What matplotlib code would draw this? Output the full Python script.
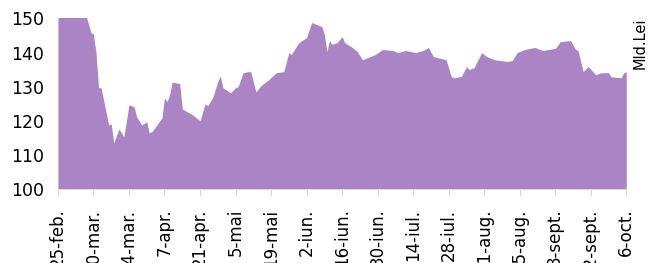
import pandas as pd
import matplotlib.pyplot as plt

# Values (mld. lei), 2020
dates = [
    "2020-02-25", "2020-03-01", "2020-03-07", "2020-03-09", "2020-03-10", "2020-03-11",
    "2020-03-12", "2020-03-13", "2020-03-16", "2020-03-17", "2020-03-18", "2020-03-20",
    "2020-03-22", "2020-03-24", "2020-03-26", "2020-03-27", "2020-03-29", "2020-03-31",
    "2020-04-01", "2020-04-02", "2020-04-04", "2020-04-06", "2020-04-07", "2020-04-08",
    "2020-04-09", "2020-04-10", "2020-04-13", "2020-04-14", "2020-04-18", "2020-04-21",
    "2020-04-23", "2020-04-24", "2020-04-26", "2020-04-28", "2020-04-29", "2020-04-30",
    "2020-05-03", "2020-05-05", "2020-05-06", "2020-05-08", "2020-05-10", "2020-05-11",
    "2020-05-13", "2020-05-15", "2020-05-18", "2020-05-21", "2020-05-24", "2020-05-26",
    "2020-05-27", "2020-05-29", "2020-05-30", "2020-06-02", "2020-06-04", "2020-06-06",
    "2020-06-08", "2020-06-09", "2020-06-10", "2020-06-11", "2020-06-12", "2020-06-14",
    "2020-06-16", "2020-06-17", "2020-06-20", "2020-06-22", "2020-06-24", "2020-06-27",
    "2020-06-29", "2020-07-02", "2020-07-06", "2020-07-08", "2020-07-11", "2020-07-15",
    "2020-07-18", "2020-07-20", "2020-07-22", "2020-07-27", "2020-07-29", "2020-07-30",
    "2020-08-02", "2020-08-04", "2020-08-05", "2020-08-07", "2020-08-10", "2020-08-12",
    "2020-08-15", "2020-08-18", "2020-08-20", "2020-08-22", "2020-08-24", "2020-08-27",
    "2020-08-31", "2020-09-03", "2020-09-08", "2020-09-10", "2020-09-14", "2020-09-16",
    "2020-09-17", "2020-09-19", "2020-09-21", "2020-09-24", "2020-09-26", "2020-09-29",
    "2020-09-30", "2020-10-04", "2020-10-05", "2020-10-06",
]
values = [
    156.0, 158.0, 151.0, 145.9, 145.3, 140.0,
    129.7, 129.7, 118.8, 119.1, 113.5, 117.6,
    115.3, 124.7, 124.1, 121.2, 118.8, 119.7,
    116.5, 116.8, 118.8, 120.9, 126.8, 125.6,
    127.6, 131.3, 130.9, 123.5, 121.8, 120.0,
    125.0, 124.4, 126.8, 131.5, 133.2, 129.7,
    128.2, 129.7, 130.0, 134.1, 134.4, 134.4,
    128.5, 130.3, 132.0, 134.1, 134.4, 140.0,
    139.4, 141.8, 142.9, 144.4, 148.8, 148.2,
    147.6, 145.3, 140.3, 143.5, 142.4, 142.9,
    144.7, 142.9, 141.5, 140.3, 137.9, 138.8,
    139.4, 140.9, 140.6, 140.0, 140.6, 140.0,
    140.6, 141.5, 138.8, 137.9, 133.0, 132.6,
    133.0, 135.9, 135.0, 135.6, 140.0, 138.8,
    137.9, 137.6, 137.4, 137.6, 140.0, 140.9,
    141.5, 140.6, 141.2, 143.2, 143.5, 140.9,
    140.6, 134.4, 135.9, 133.5, 134.1, 134.1,
    132.9, 132.6, 134.1, 134.3,
]
tick_labels = ["25-feb.", "10-mar.", "24-mar.", "7-apr.", "21-apr.", "5-mai", "19-mai",
               "2-iun.", "16-iun.", "30-iun.", "14-iul.", "28-iul.", "11-aug.", "25-aug.",
               "8-sept.", "22-sept.", "6-oct."]

x = pd.to_datetime(dates)
ticks = pd.date_range("2020-02-25", "2020-10-06", freq="14D")

fig = plt.figure(figsize=(6.51, 2.63), dpi=100)
ax = fig.add_axes([0.089, 0.281, 0.873, 0.649])

ax.fill_between(x, 100, values, color="#AB84C5", linewidth=0)

ax.set_xlim(x[0], x[-1])
ax.set_ylim(100, 150)
ax.set_yticks(range(100, 151, 10))
ax.set_xticks(ticks)
ax.set_xticklabels(tick_labels, rotation=90, fontsize=12)

for s in ["top", "right", "left"]:
    ax.spines[s].set_visible(False)
ax.spines["bottom"].set_color("#D9D9D9")
ax.tick_params(axis="y", length=0, pad=10, labelsize=12.5)
ax.tick_params(axis="x", length=5, color="#D9D9D9", pad=9)

fig.text(0.9835, 0.935, "Mld.Lei", rotation=90, ha="center", va="top", fontsize=10.5)

plt.savefig("out.png", dpi=100)
